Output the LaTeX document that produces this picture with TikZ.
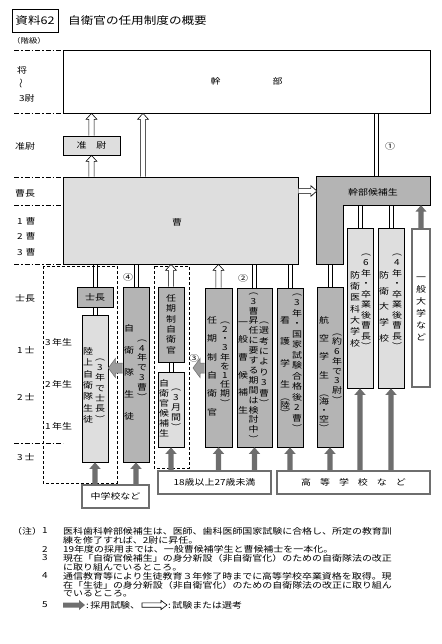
\documentclass[tikz,border=0pt]{standalone}
\usepackage{fontspec}
\setmainfont[FakeStretch=1.2]{Noto Sans CJK JP}
\usetikzlibrary{calc}
\definecolor{lite}{HTML}{DEDEDE}
\definecolor{dark}{HTML}{B4B4B4}
\definecolor{agray}{HTML}{6E6E6E}
\definecolor{bgray}{HTML}{9C9C9C}
\newcommand\fnA{\fontsize{8.3pt}{10pt}\selectfont}
\newcommand\fnS{\fontsize{7pt}{8pt}\selectfont}
\newcommand\fnT{\fontsize{10.5pt}{12pt}\selectfont}
\ExplSyntaxOn
\NewDocumentCommand \vt { O{10.5pt} m }
  {
    \vbox
      {
        \baselineskip = #1 \scan_stop:
        \lineskiplimit = -100pt \scan_stop:
        \lineskip = 0pt \scan_stop:
        \tl_map_inline:nn { #2 }
          { \hbox ~ to ~ 0pt { \hss \vrule ~ height ~ 7pt ~ depth ~ 1.5pt ~ width ~ 0pt \scan_stop: ##1 \hss } }
      }
  }
\ExplSyntaxOff
\begin{document}
\begin{tikzpicture}[x=1pt,y=-1pt,
  bx/.style={draw, line width=0.7pt, inner sep=0pt, font=\fnA},
  lbx/.style={bx, fill=lite},
  dbx/.style={bx, fill=dark},
  src/.style={draw=agray, line width=1.8pt, fill=white, inner sep=0pt, font=\fnA},
  vt/.style={inner sep=0pt, anchor=north, font=\fnA},
  rk/.style={inner sep=0pt, anchor=west, font=\fnA},
  nt/.style={inner sep=0pt, anchor=west, font=\fnA},
  lbl/.style={inner sep=0pt, font=\fnA},
  dl/.style={draw=black, line width=0.7pt, to path={let \p1=(\tikztostart), \p2=(\tikztotarget) in (\x1-2.1pt,\y1) -- (\x1-2.1pt,\y2) (\x1+2.1pt,\y1) -- (\x1+2.1pt,\y2)}},
  rank/.style={draw, line width=0.7pt, dash pattern=on 5pt off 2pt on 1.5pt off 2pt},
  dbox/.style={draw, line width=0.6pt, dash pattern=on 3pt off 2pt},
  hup/.style={draw=black, fill=white, line width=0.6pt, to path={let \p1=(\tikztostart), \p2=(\tikztotarget) in (\x1-2.6pt,\y1) -- (\x1-2.6pt,\y2-6pt) -- (\x1-5.4pt,\y2-6pt) -- (\x1,\y2) -- (\x1+5.4pt,\y2-6pt) -- (\x1+2.6pt,\y2-6pt) -- (\x1+2.6pt,\y1)}},
  hright/.style={draw=black, fill=white, line width=0.6pt, to path={let \p1=(\tikztostart), \p2=(\tikztotarget) in (\x1,\y1+2.6pt) -- (\x2-6pt,\y1+2.6pt) -- (\x2-6pt,\y1+5.4pt) -- (\x2,\y1) -- (\x2-6pt,\y1-5.4pt) -- (\x2-6pt,\y1-2.6pt) -- (\x1,\y1-2.6pt)}},
  hrightc/.style={draw=black, fill=white, line width=0.6pt, to path={let \p1=(\tikztostart), \p2=(\tikztotarget) in (\x1,\y1+2.2pt) -- (\x2-6pt,\y1+2.2pt) -- (\x2-6pt,\y1+4.6pt) -- (\x2,\y1) -- (\x2-6pt,\y1-4.6pt) -- (\x2-6pt,\y1-2.2pt) -- (\x1,\y1-2.2pt) -- cycle}},
  gup/.style={fill=agray, draw=none, to path={let \p1=(\tikztostart), \p2=(\tikztotarget) in (\x1-2.6pt,\y1) -- (\x1-2.6pt,\y2-6.5pt) -- (\x1-5.6pt,\y2-6.5pt) -- (\x1,\y2) -- (\x1+5.6pt,\y2-6.5pt) -- (\x1+2.6pt,\y2-6.5pt) -- (\x1+2.6pt,\y1) -- cycle}},
  gright/.style={fill=agray, draw=none, to path={let \p1=(\tikztostart), \p2=(\tikztotarget) in (\x1,\y1+2.5pt) -- (\x2-6pt,\y1+2.5pt) -- (\x2-6pt,\y1+5pt) -- (\x2,\y1) -- (\x2-6pt,\y1-5pt) -- (\x2-6pt,\y1-2.5pt) -- (\x1,\y1-2.5pt) -- cycle}},
  gleft/.style={fill=bgray, draw=agray, line width=0.5pt, to path={let \p1=(\tikztostart), \p2=(\tikztotarget) in (\x1,\y1+5pt) -- (\x2+7pt,\y1+5pt) -- (\x2+7pt,\y1+9.5pt) -- (\x2,\y1) -- (\x2+7pt,\y1-9.5pt) -- (\x2+7pt,\y1-5pt) -- (\x1,\y1-5pt)}},
]
\useasboundingbox[fill=white] (0,0) rectangle (441,644);

% title
\node[bx, minimum width=46pt, minimum height=23pt, font=\fnT] (ttl) at (35,20.5) {資料62};
\node[inner sep=0pt, anchor=west, font=\fnT] (title) at (68,21) {自衛官の任用制度の概要};
\node[inner sep=0pt, anchor=west, font=\fnS] (kaikyu) at (12,41) {（階級）};

% rank guide lines
\foreach \yy in {50,113,177,205,264,443} \draw[rank] (14,\yy) -- (63,\yy);

% rank labels
\node[rk] (r1) at (17,70) {将};
\node[inner sep=0pt, rotate=90, font=\fnA] (r2) at (22,84) {〜};
\node[rk] (r3) at (19,98) {3尉};
\node[rk] (r4) at (15,146) {准尉};
\node[rk] (r5) at (15,193) {曹長};
\node[rk] (r6) at (17,221) {1\hspace{3pt}曹};
\node[rk] (r7) at (17,236) {2\hspace{3pt}曹};
\node[rk] (r8) at (17,252) {3\hspace{3pt}曹};
\node[rk] (r9) at (15,298) {士長};
\node[rk] (r10) at (17,350) {1\hspace{2pt}士};
\node[rk] (r11) at (17,397) {2\hspace{2pt}士};
\node[rk] (r12) at (17,457) {3\hspace{2pt}士};
\node[rk] (yr3) at (45,342) {3\hspace{1.5pt}年生};
\node[rk] (yr2) at (45,384) {2\hspace{1.5pt}年生};
\node[rk] (yr1) at (45,426) {1\hspace{1.5pt}年生};

% dashed groups
\draw[dbox] (43,266) rectangle (117,483);
\draw[dbox] (154,266) rectangle (189,468);

% main boxes
\node[bx, fill=white, minimum width=367pt, minimum height=63pt] (kanbu) at (246.5,81.5) {幹\hspace{52pt}部};
\node[lbx, minimum width=57pt, minimum height=19pt] (junsho) at (91.5,145.5) {准　尉};
\node[lbx, minimum width=235pt, minimum height=87pt] (sou) at (180.5,220.5) {};
\node[lbl] (soulab) at (177,222) {曹};

% L-shaped officer candidate
\node[minimum width=113pt, minimum height=28pt, inner sep=0pt] (kkh) at (373.5,191) {};
\node[minimum width=26pt, minimum height=87pt, inner sep=0pt] (kkv) at (330,220.5) {};
\draw[fill=dark, line width=0.7pt] (kkh.north west) -- (kkh.north east) -- (kkh.south east) -- (kkh.south -| kkv.east) -- (kkv.south east) -- (kkv.south west) -- cycle;
\node[lbl] (kklab) at (373,192) {幹部候補生};

% columns
\node[lbx, minimum width=26pt, minimum height=160pt] (ika) at (360,308) {};
\node[lbx, minimum width=26pt, minimum height=160pt] (bdai) at (391,308) {};
\node[draw=agray, line width=2pt, fill=white, inner sep=0pt, minimum width=18pt, minimum height=158pt] (ipd) at (421,308) {};
\node[dbx, minimum width=36pt, minimum height=20pt] (shicho) at (95,297) {士長};
\node[lbx, minimum width=26pt, minimum height=147pt] (rikujo) at (95,388.5) {};
\node[dbx, minimum width=26pt, minimum height=175pt] (seito) at (136,374.5) {};
\node[dbx, minimum width=26pt, minimum height=75pt] (ninki1) at (171,324.5) {};
\node[lbx, minimum width=26pt, minimum height=75pt] (koho) at (171,409.5) {};
\node[dbx, minimum width=27pt, minimum height=159pt] (ninki2) at (218.5,367.5) {};
\node[dbx, minimum width=35pt, minimum height=159pt] (ippanso) at (254.5,367.5) {};
\node[dbx, minimum width=26pt, minimum height=159pt] (kango) at (290,367.5) {};
\node[dbx, minimum width=26pt, minimum height=160pt] (koku) at (330,367) {};

% source boxes
\node[src, minimum width=67pt, minimum height=23pt] (src1) at (115.5,496.5) {中学校など};
\node[src, minimum width=113pt, minimum height=23pt] (src2) at (214.5,482.5) {18歳以上27歳未満};
\node[src, minimum width=153pt, minimum height=23pt] (src3) at (353.5,482.5) {高\hspace{9pt}等\hspace{9pt}学\hspace{9pt}校\hspace{9pt}な\hspace{9pt}ど};

% vertical texts
\node[vt] (t1) at (88,347) {\vt[11.4pt]{陸上自衛隊生徒}};
\node[vt] (t2) at (100,353) {\vt[10.3pt]{︵3年で士長︶}};
\node[vt] (t3) at (129,324) {\vt[22pt]{自衛隊生徒}};
\node[vt] (t4) at (142,334) {\vt[9.8pt]{︵4年で3曹︶}};
\node[vt] (t5) at (171,294) {\vt[10.4pt]{任期制自衛官}};
\node[vt] (t6) at (164,379) {\vt[10pt]{自衛官候補生}};
\node[vt] (t7) at (176,383) {\vt[10pt]{︵3月間︶}};
\node[vt] (t8) at (212,316) {\vt[18.4pt]{任期制自衛官}};
\node[vt] (t9) at (225,316) {\vt[9.2pt]{︵2・3年を1任期︶}};
\node[vt] (t10) at (243,318) {\vt[17.6pt]{一般曹候補生}};
\node[vt] (t11) at (253.5,287) {\vt[9.9pt]{︵3曹昇任に要する期間は検討中︶}};
\node[vt] (t12) at (264,316) {\vt[10.4pt]{︵選考により3曹︶}};
\node[vt] (t13) at (285,316) {\vt[21.5pt]{看護学生}};
\node[vt] (t14) at (285,393) {\vt[8pt]{︵陸︶}};
\node[vt] (t15) at (297,288) {\vt[10.5pt]{︵3年・国家試験合格後2曹︶}};
\node[vt] (t16) at (324,316) {\vt[18.3pt]{航空学生}};
\node[vt] (t17) at (324,389) {\vt[8.75pt]{︵海・空︶}};
\node[vt] (t18) at (337,328) {\vt[9.7pt]{︵約6年で3尉︶}};
\node[vt] (t19) at (355,271) {\vt[11.3pt]{防衛医科大学校}};
\node[vt] (t20) at (366,248) {\vt[10.5pt]{︵6年・卒業後曹長︶}};
\node[vt] (t21) at (384,271) {\vt[15.8pt]{防衛大学校}};
\node[vt] (t22) at (397,248) {\vt[10.5pt]{︵4年・卒業後曹長︶}};
\node[vt] (t23) at (421,273) {\vt[12pt]{一般大学など}};

% helper coordinates
\coordinate (xa) at (143,0);
\coordinate (xb) at (376,0);
\coordinate (ya) at (0,368);
\coordinate (tip3) at (193,368);

% hollow arrows (試験または選考)
\path[hup] (junsho.north) to (junsho.north |- kanbu.south);
\path[hup] (junsho.south |- sou.north) to (junsho.south);
\path[hup] (xa |- sou.north) to (xa |- kanbu.south);
\path[hright] (sou.east |- kkh.west) to (kkh.west);
\path[hup] (ninki1.north) to (ninki1.north |- sou.south);
\path[hup] (ninki2.north) to (ninki2.north |- sou.south);

% double lines
\path[dl] (xb |- kkh.north) to (xb |- kanbu.south);
\path[dl] (shicho.north) to (shicho.north |- sou.south);
\path[dl] (rikujo.north) to (shicho.south);
\path[dl] (seito.north) to (seito.north |- sou.south);
\path[dl] (koho.north) to (ninki1.south);
\path[dl] (ippanso.north) to (ippanso.north |- sou.south);
\path[dl] (kango.north) to (kango.north |- sou.south);
\path[dl] (koku.north) to (kkv.south);
\path[dl] (ika.north) to (ika.north |- kkh.south);
\path[dl] (bdai.north) to (bdai.north |- kkh.south);

% gray arrows (採用試験)
\path[gup] (ipd.north) to (ipd.north |- kkh.south);
\path[gup] (src1.north -| rikujo.south) to (rikujo.south);
\path[gup] (src1.north -| seito.south) to (seito.south);
\path[gup] (src2.north -| koho.south) to (koho.south);
\path[gup] (src2.north -| ninki2.south) to (ninki2.south);
\path[gup] (src2.north -| ippanso.south) to (ippanso.south);
\path[gup] (src3.north -| kango.south) to (kango.south);
\path[gup] (src3.north -| koku.south) to (koku.south);
\path[gup] (src3.north -| ika.south) to (ika.south);
\path[gup] (src3.north -| bdai.south) to (bdai.south);

% side block arrows
\path[gleft] (seito.west |- ya) to (rikujo.east |- ya);
\path[gleft] (ninki2.west |- ya) to (tip3);

% circled labels
\node[lbl] (c1) at (390,146) {①};
\node[lbl] (c2) at (243,278) {②};
\node[lbl] (c3) at (194,358) {③};
\node[lbl] (c4) at (128,277) {④};

% notes
\node[nt] (no0) at (12,531) {（注）};
\node[nt] (no1) at (42,531) {1};
\node[nt] (no1a) at (63,531) {医科歯科幹部候補生は、医師、歯科医師国家試験に合格し、所定の教育訓};
\node[nt] (no1b) at (63,540) {練を修了すれば、2尉に昇任。};
\node[nt] (no2) at (42,549) {2};
\node[nt] (no2a) at (63,549) {19年度の採用までは、一般曹候補学生と曹候補士を一本化。};
\node[nt] (no3) at (42,558) {3};
\node[nt] (no3a) at (63,558) {現在「自衛官候補生」の身分新設（非自衛官化）のための自衛隊法の改正};
\node[nt] (no3b) at (63,567) {に取り組んでいるところ。};
\node[nt] (no4) at (42,576) {4};
\node[nt] (no4a) at (63,576) {通信教育等により生徒教育３年修了時までに高等学校卒業資格を取得。現};
\node[nt] (no4b) at (63,585) {在「生徒」の身分新設（非自衛官化）のための自衛隊法の改正に取り組ん};
\node[nt] (no4c) at (63,594) {でいるところ。};
\node[nt] (no5) at (42,605) {5};
\coordinate (lga) at (63,605);
\coordinate (lgb) at (85,605);
\path[gright] (lga) to (lgb);
\node[nt] (lgt1) at (86,605) {:\,採用試験、};
\coordinate (lgc) at (142,605);
\coordinate (lgd) at (167,605);
\path[hrightc] (lgc) to (lgd);
\node[nt] (lgt2) at (168,605) {:\,試験または選考};
\end{tikzpicture}
\end{document}
